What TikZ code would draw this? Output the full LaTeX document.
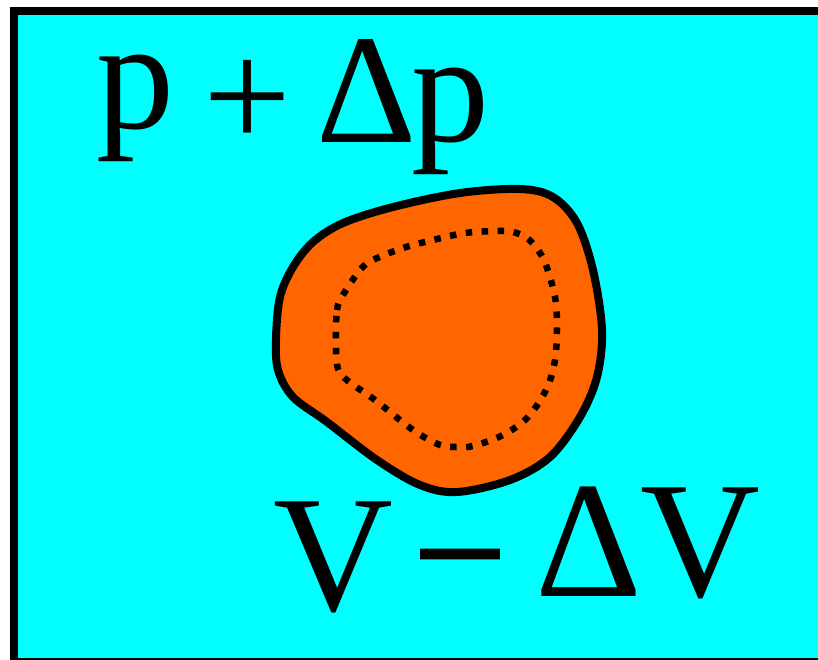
\documentclass[tikz,border=0pt]{standalone}
\usepackage{fontspec}
\setmainfont{Liberation Serif}
\definecolor{bgcyan}{HTML}{00FFFF}
\definecolor{blob}{HTML}{FF6600}
\begin{document}
\begin{tikzpicture}[x=1pt,y=-1pt,
  bigtxt/.style={inner sep=0pt,anchor=base,font=\fontsize{156}{156}\selectfont},
  bigtxtb/.style={inner sep=0pt,anchor=base,font=\fontsize{166}{166}\selectfont}]
\useasboundingbox (0,0) rectangle (818,660);
\clip (0,0) rectangle (818,660);
\fill[white] (0,0) rectangle (818,660);
\draw[line width=8pt,fill=bgcyan] (14,11) rectangle (824,662);
% blob
\draw[line width=8pt,fill=blob,line join=round] plot[smooth cycle,tension=0.55] coordinates {
 (276,338) (280,297) (293,267) (313,242) (343,223) (393,207) (460,193) (520,189)
 (553,197) (577,223) (593,270) (602,330) (597,377) (580,417) (550,457) (510,480)
 (457,492) (420,485) (377,460) (327,422) (293,397) (278,370)};
\draw[line width=6.5pt,dash pattern=on 6.5pt off 9.5pt] plot[smooth cycle,tension=0.55] coordinates {
 (336,343) (337,310) (343,295) (360,270) (373,260) (403,248) (433,240) (465,233)
 (497,231) (513,232) (527,238) (538,250) (546,265) (555,297) (557,327) (555,360)
 (547,388) (528,417) (503,435) (473,446) (457,447) (440,445) (413,430) (375,400)
 (348,381) (338,369)};
% texts
\node[bigtxt] (p1) at (135,129) {p};
\node[bigtxt] (plus) at (247,149) {+};
\node[bigtxt] (d1) at (367,143) {Δ};
\node[bigtxt] (p2) at (450,142) {p};
\node[bigtxtb] (v1) at (333,610) {V};
\node[bigtxtb] (minus) at (460,609) {\addfontfeatures{FakeBold=1.5}−};
\node[bigtxtb] (d2) at (589,596) {Δ};
\node[bigtxtb] (v2) at (700,596) {V};
\end{tikzpicture}
\end{document}
